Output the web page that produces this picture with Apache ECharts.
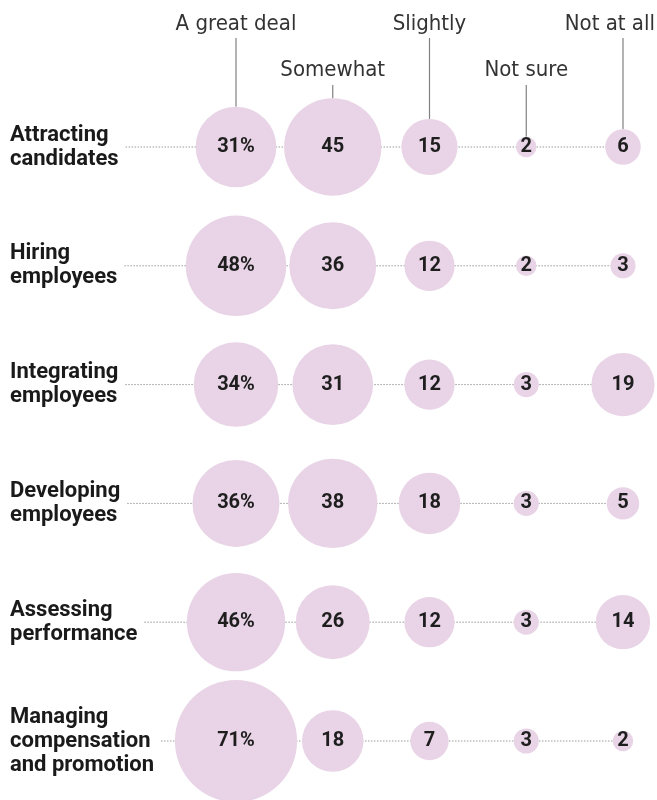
<!DOCTYPE html>
<html>
<head>
<meta charset="utf-8">
<script src="https://cdn.jsdelivr.net/npm/echarts@6/dist/echarts.min.js"></script>
<style>
html,body{margin:0;padding:0;background:#fff;}
#chart{width:657px;height:800px;}
</style>
</head>
<body>
<div id="chart"></div>
<script>
// ---- data ----
const rows = ['Attracting\ncandidates', 'Hiring\nemployees', 'Integrating\nemployees', 'Developing\nemployees', 'Assessing\nperformance', 'Managing\ncompensation\nand promotion'];
const responses = ['A great deal', 'Somewhat', 'Slightly', 'Not sure', 'Not at all'];
const greatDeal = [31, 48, 34, 36, 46, 71];
const somewhat  = [45, 36, 31, 38, 26, 18];
const slightly  = [15, 12, 12, 18, 12, 7];
const notSure   = [2, 2, 3, 3, 3, 3];
const notAtAll  = [6, 3, 19, 5, 14, 2];

// ---- styling ----
const BUBBLE = '#e8d4e6';
const LABEL_FONT = 'bold 22px Roboto';
const HEAD_FONT = 'condensed 22px "DejaVu Sans Condensed", "DejaVu Sans", Roboto, sans-serif';
const LABEL_LEFT = 10;
const GRID_LEFT = 236;
const SIZE_K = 14.5; // diameter per sqrt(value)
const cols = [greatDeal, somewhat, slightly, notSure, notAtAll];

const points = [];
cols.forEach((arr, c) => arr.forEach((v, r) => points.push([c, r, v])));

const ctx = document.createElement('canvas').getContext('2d');
ctx.font = LABEL_FONT;
function labelWidth(s) {
  return Math.max.apply(null, s.split('\n').map(l => ctx.measureText(l).width));
}

const chart = echarts.init(document.getElementById('chart'), null, {renderer: 'canvas'});
chart.setOption({
  animation: false,
  backgroundColor: '#fff',
  grid: {left: GRID_LEFT, right: 34, top: 147, bottom: 59, containLabel: false},
  xAxis: {type: 'category', data: responses, boundaryGap: false, show: false},
  yAxis: {
    type: 'category', data: rows, inverse: true, boundaryGap: false,
    axisLine: {show: false}, axisTick: {show: false}, splitLine: {show: false},
    axisLabel: {
      align: 'left', margin: GRID_LEFT - LABEL_LEFT, color: '#1a1a1a',
      fontFamily: 'Roboto', fontWeight: 'bold', fontSize: 22, lineHeight: 24
    }
  },
  series: [
    {
      type: 'custom', z: 1, silent: true,
      data: rows.map((r, i) => [i]),
      renderItem: function (params, api) {
        const r = api.value(0);
        const end = api.coord([responses.length - 1, r]);
        const x0 = LABEL_LEFT + labelWidth(rows[r]) + 7;
        return {
          type: 'line',
          shape: {x1: x0, y1: end[1], x2: end[0], y2: end[1]},
          style: {stroke: '#9a9a9a', lineWidth: 1, lineDash: [1.5, 1.5]}
        };
      }
    },
    {
      type: 'custom', z: 1, silent: true,
      data: responses.map((n, i) => [i, cols[i][0]]),
      renderItem: function (params, api) {
        const i = api.value(0);
        const v = api.value(1);
        const p = api.coord([i, 0]);
        const rad = SIZE_K * Math.sqrt(v) / 2;
        const low = i % 2 === 1;
        const midY = low ? 70 : 24;
        const lineTop = low ? 85 : 38;
        const last = i === responses.length - 1;
        return {
          type: 'group',
          children: [
            {
              type: 'line',
              shape: {x1: p[0], y1: lineTop, x2: p[0], y2: p[1] - rad},
              style: {stroke: '#808080', lineWidth: 1.2}
            },
            {
              type: 'text',
              style: {
                text: responses[i], x: last ? 655 : p[0], y: midY,
                align: last ? 'right' : 'center', verticalAlign: 'middle',
                font: HEAD_FONT, fill: '#333'
              }
            }
          ]
        };
      }
    },
    {
      type: 'scatter', z: 3, clip: false,
      data: points,
      symbolSize: function (d) { return SIZE_K * Math.sqrt(d[2]); },
      itemStyle: {color: BUBBLE, opacity: 1},
      label: {
        show: true, position: 'inside', color: '#1e1e1e',
        fontFamily: 'Roboto', fontWeight: 'bold', fontSize: 20,
        formatter: function (p) { return p.value[0] === 0 ? p.value[2] + '%' : String(p.value[2]); }
      },
      emphasis: {disabled: true}
    }
  ]
});
</script>
</body>
</html>
